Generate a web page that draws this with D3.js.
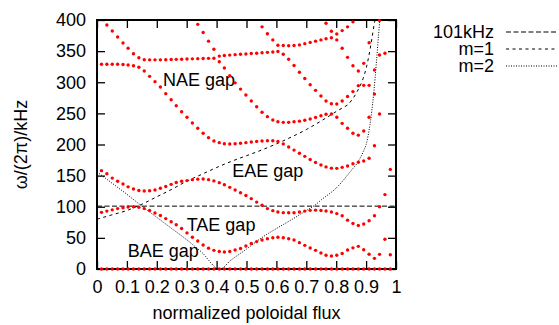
<!DOCTYPE html>
<html>
<head>
<meta charset="utf-8">
<script src="https://cdn.jsdelivr.net/npm/d3@7"></script>
<style>
  html, body { margin: 0; padding: 0; background: #fff; }
  svg { display: block; }
  text { font-family: "Liberation Sans", Arial, sans-serif; font-size: 18px; fill: #000; }
</style>
</head>
<body>
<svg id="chart" width="559" height="325"></svg>
<script>
// Radial grid (normalized poloidal flux) on which the continuum is sampled
const flux = [0.015,0.033,0.051,0.069,0.087,0.104,0.122,0.140,0.158,0.176,
              0.194,0.212,0.230,0.248,0.265,0.283,0.301,0.319,0.337,0.355,
              0.373,0.391,0.409,0.426,0.444,0.462,0.480,0.498,0.516,0.534,
              0.552,0.570,0.588,0.605,0.623,0.641,0.659,0.677,0.695,0.713,
              0.731,0.749,0.766,0.784,0.802,0.820,0.838,0.856,0.874,0.892,
              0.910,0.928,0.945,0.963,0.981];

// Continuum branches, frequency in kHz (null where the branch has no point)
const zeroBranch = [0,0,0,0,0,0,0,0,0,0, 0,0,0,0,0,0,0,0,0,0, 0,0,0,0,0,0,0,0,0,0,
                    0,0,0,0,0,0,0,0,0,0, 0,0,0,0,0,0,0,0,0,0, 0,0,0,0,0];

const taeLower = [91, 93, 95, 97, 98.5, 99.5, 100, 99, 97, 94,
                  90, 86, 81, 76, 71, 65, 58, 51, 45, 38.5,
                  33.5, 30, 28, 27.3, 28, 30.5, 33, 37, 41, 44,
                  46.6, 48.7, 50.3, 51, 50.3, 48.7, 46.6, 42.3, 38, 33.7,
                  30, 25.7, 22, 21, 22, 25, 30.5, 34, 36.4, 31,
                  23.7, 17.1, 23.5, 47.7, 23];

const taeUpper = [158, 153, 146, 141, 136.5, 132, 128.5, 126, 125.3, 125.8,
                  127, 129.6, 132.5, 136, 139, 141, 142, 143.5, 144.3, 144.5,
                  143.5, 141.5, 138.7, 135.4, 131.2, 127, 122.6, 118, 113, 107.5,
                  102.5, 97, 93.7, 91.5, 90.5, 90.4, 90.4, 91.5, 93, 94.2,
                  94.5, 94, 93.2, 91.6, 89, 85.5, 78.5, 73, 70, 72.3,
                  77.6, 85.6, 100, 119.5, 160];

const eaeUpper = [329, 329, 329, 329, 328.5, 327.7, 326.6, 324, 318, 309.5,
                  301, 292.4, 281.7, 272, 262.3, 252.7, 243.7, 234.5, 226, 218,
                  211, 205.6, 203, 201.3, 200.8, 201.3, 202, 203, 204, 205,
                  205.6, 206, 206, 205, 201, 196, 191, 186, 181, 176,
                  171, 167, 164, 162, 161.7, 163.3, 165.5, 169, 171.5, 173.5,
                  178, 198, null, null, null];

const naeLower = [null, 392, 382.3, 372.7, 363, 354.5, 345.8, 339.4, 336.2, 336,
                  336, 336, 336.2, 336.5, 336.8, 337, 337.3, 337.6, 337.9, 338.2,
                  338.4, 338.6, 342, 343, 343.6, 344.3, 344.9, 345.5, 346.1, 346.7,
                  347.3, 348, 348.6, 349.3, 345, 337, 327, 316, 306, 296,
                  287, 278, 270, 265.5, 265, 270, 277, 285, 294.5, 295,
                  295, 319.7, 343.8, 346.5, null];

const naeMiddle = [null, null, null, null, null, null, null, null, null, null,
                   null, null, null, null, null, null, null, null, 393, 380,
                   366, 353, 333, 323, 310.5, 299, 289, 279.5, 270, 260.7,
                   251.7, 244.7, 239.4, 236.6, 235.6, 235.6, 236.6, 237.5, 239, 241,
                   243.5, 246.3, 248.5, 249, 243.7, 234, 226, 218, 215, 221.7,
                   243.7, 281, 249, null, null];

const naeUpper = [null, null, null, null, null, null, null, null, null, null,
                  null, null, null, null, null, null, null, null, null, null,
                  null, null, null, null, null, null, null, null, null, null,
                  389, 378, 368, 359.5, 359, 358.6, 359, 360, 362, 364,
                  366, 368, 370, 371.5, 377.5, 383, 389, 397, null, null,
                  null, null, null, null, null];

const edgeBranch = [null, null, null, null, null, null, null, null, null, null,
                    null, null, null, null, null, null, null, null, null, null,
                    null, null, null, null, null, null, null, null, null, null,
                    null, null, null, null, null, null, null, null, null, null,
                    null, null, 394.7, 382, 368, 354.5, 340, 326.6, 318, 330.4,
                    363.5, null, 399, null, null];

const branches = [zeroBranch, taeLower, taeUpper, eaeUpper, naeLower, naeMiddle, naeUpper, edgeBranch];

// Cylindrical continua of the m=1 and m=2 harmonics
const m1Flux = [0, 0.05, 0.1, 0.15, 0.2, 0.25, 0.3, 0.35, 0.4, 0.45, 0.5, 0.55, 0.6, 0.65, 0.7, 0.75, 0.8, 0.85, 0.87, 0.89, 0.9, 0.913, 0.92, 0.927, 0.932];
const m1Freq = [80, 87, 94, 104, 116, 128, 141, 152, 163, 173, 182, 191, 201, 212, 224, 238, 253, 270, 285, 306, 322, 352, 372, 393, 405];
const m2Flux = [0, 0.05, 0.1, 0.15, 0.2, 0.25, 0.3, 0.35, 0.41, 0.45, 0.5, 0.55, 0.6, 0.65, 0.7, 0.73, 0.75, 0.8, 0.85, 0.87, 0.89, 0.9, 0.913, 0.925, 0.935, 0.942, 0.948];
const m2Freq = [156, 138, 120, 101, 83, 65, 47, 27, 0, 15, 32, 50, 65, 79, 94, 103, 111, 130, 158, 170, 188, 200, 232, 280, 335, 378, 412];

// Reference frequency line
const refFreq = 101;

// Axis ticks and texts
const xTicks = [0, 0.1, 0.2, 0.3, 0.4, 0.5, 0.6, 0.7, 0.8, 0.9, 1];
const yTicks = [0, 50, 100, 150, 200, 250, 300, 350, 400];
const legendLabels = ["101kHz", "m=1", "m=2"];
const gapNames = ["NAE gap", "EAE gap", "TAE gap", "BAE gap"];
const xTitle = "normalized poloidal flux";
const yTitle = "ω/(2π)/kHz";

const svg = d3.select("#chart");
const x = d3.scaleLinear().domain([0, 1]).range([97, 396]);
const y = d3.scaleLinear().domain([0, 400]).range([269, 20]);

svg.append("defs").append("clipPath").attr("id", "plot-clip")
  .append("rect").attr("x", x(0)).attr("y", y(400))
  .attr("width", x(1) - x(0)).attr("height", y(0) - y(400));

// Ticks pointing into the frame on all four sides
const tickStyle = g => {
  g.select(".domain").remove();
  g.selectAll(".tick line").attr("stroke", "#000").attr("stroke-width", 1.3);
};
svg.append("g").attr("transform", `translate(0,${y(0)})`)
  .call(d3.axisBottom(x).tickValues(xTicks).tickSize(-8).tickPadding(11).tickFormat(d3.format("~g")))
  .call(tickStyle);
svg.append("g").attr("transform", `translate(0,${y(400)})`)
  .call(d3.axisTop(x).tickValues(xTicks).tickSize(-8).tickFormat(""))
  .call(tickStyle);
svg.append("g").attr("transform", `translate(${x(0)},0)`)
  .call(d3.axisLeft(y).tickValues(yTicks).tickSize(-8).tickPadding(11))
  .call(tickStyle);
svg.append("g").attr("transform", `translate(${x(1)},0)`)
  .call(d3.axisRight(y).tickValues(yTicks).tickSize(-8).tickFormat(""))
  .call(tickStyle);

svg.selectAll(".tick text").attr("fill", "#000");

// Plot frame
svg.append("rect")
  .attr("x", x(0)).attr("y", y(400))
  .attr("width", x(1) - x(0)).attr("height", y(0) - y(400))
  .attr("fill", "none").attr("stroke", "#000").attr("stroke-width", 2);

// Axis titles
svg.append("text").attr("x", (x(0) + x(1)) / 2).attr("y", 318.5)
  .attr("text-anchor", "middle").text(xTitle);
svg.append("text").attr("transform", `translate(27,${(y(0) + y(400)) / 2}) rotate(-90)`)
  .attr("text-anchor", "middle").text(yTitle);

// Line layers
const lines = svg.append("g").attr("clip-path", "url(#plot-clip)");
const curve = d3.line().x(d => x(d[0])).y(d => y(d[1])).curve(d3.curveMonotoneX);

const dashes = ["5,2.5", "3,3.5", "1,1.5"];

lines.append("line")
  .attr("x1", x(0)).attr("x2", x(1)).attr("y1", y(refFreq)).attr("y2", y(refFreq))
  .attr("stroke", "#000").attr("stroke-width", 1).attr("stroke-dasharray", dashes[0]);
lines.append("path").attr("d", curve(m1Flux.map((s, i) => [s, m1Freq[i]])))
  .attr("fill", "none").attr("stroke", "#000").attr("stroke-width", 1).attr("stroke-dasharray", dashes[1]);
lines.append("path").attr("d", curve(m2Flux.map((s, i) => [s, m2Freq[i]])))
  .attr("fill", "none").attr("stroke", "#000").attr("stroke-width", 1).attr("stroke-dasharray", dashes[2]);

// Gap annotations (anchored in data units)
const gapAnchors = [[0.221, 294], [0.452, 148], [0.300, 61], [0.103, 20]];
svg.append("g").selectAll("text").data(gapNames).join("text")
  .attr("x", (d, i) => x(gapAnchors[i][0]))
  .attr("y", (d, i) => y(gapAnchors[i][1]))
  .text(d => d);

// Continuum points
const points = [];
branches.forEach(b => b.forEach((f, i) => { if (f !== null) points.push([flux[i], f]); }));
svg.append("g").selectAll("circle").data(points).join("circle")
  .attr("cx", d => x(d[0])).attr("cy", d => y(d[1]))
  .attr("r", 1.7).attr("fill", "#ff0000");

// Legend
const legend = svg.append("g");
legendLabels.forEach((label, i) => {
  const ly = 32 + i * 17;
  legend.append("text").attr("x", 494).attr("y", ly).attr("dy", "0.32em")
    .attr("text-anchor", "end").text(label);
  legend.append("line").attr("x1", 506).attr("x2", 557).attr("y1", ly).attr("y2", ly)
    .attr("stroke", "#000").attr("stroke-width", 1).attr("stroke-dasharray", dashes[i]);
});
</script>
</body>
</html>
